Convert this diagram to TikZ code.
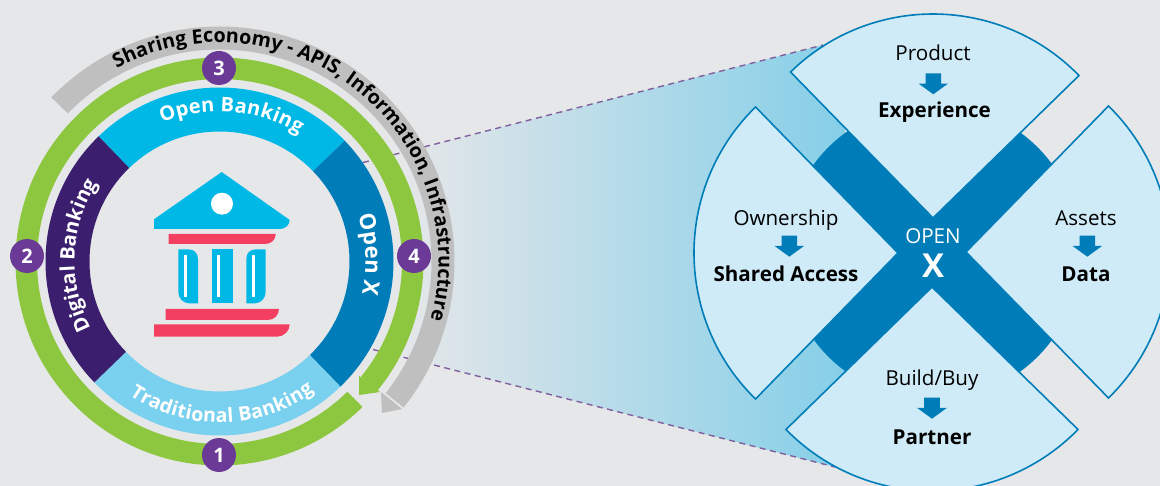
\documentclass[tikz,border=0pt]{standalone}
\usepackage{fontspec}
\setmainfont{Open Sans}
\usetikzlibrary{decorations.text}
\definecolor{bgc}{HTML}{E6E7E9}
\definecolor{fanc}{HTML}{85CFE8}
\definecolor{sectc}{HTML}{CFEBF7}
\definecolor{bluec}{HTML}{007DB8}
\definecolor{cyanc}{HTML}{00B8E6}
\definecolor{lightc}{HTML}{7AD0EF}
\definecolor{darkc}{HTML}{3B1F6E}
\definecolor{greenc}{HTML}{8DC63F}
\definecolor{grayc}{HTML}{BFBFBF}
\definecolor{purc}{HTML}{6A3A96}
\definecolor{pinkc}{HTML}{F44060}
\definecolor{dashc}{HTML}{7F5F9E}
\tikzset{
  numdot/.style={circle,fill=purc,text=white,minimum size=34pt,inner sep=0pt,font=\fontsize{20}{20}\selectfont\bfseries},
  dashline/.style={draw=dashc,line width=1.4pt,dash pattern=on 6pt off 4.5pt},
  fan/.style={fill=sectc,draw=bluec,line width=1.6pt,line join=miter},
  small/.style={anchor=base,font=\fontsize{20.6}{20.6}\selectfont,text=black,inner sep=0pt},
  strong/.style={anchor=base,font=\fontsize{20.6}{20.6}\selectfont\bfseries,text=black,inner sep=0pt},
  darrow/.style={fill=bluec},
}
\newcommand{\ringpiece}[5][]{% color via #1; r1 r2 a b
  \fill[#1] ([shift={(C)}]#4:#3) arc[start angle=#4,end angle=#5,radius=#3]
    -- ([shift={(C)}]#5:#2) arc[start angle=#5,end angle=#4,radius=#2] -- cycle;}
\newcommand{\fansector}[3]{% centre, a, b
  \draw[fan] (#1) -- ([shift={(#1)}]#2:204) arc[start angle=#2,end angle=#3,radius=204] -- cycle;}
\newcommand{\flowarrow}[2]{% cx, top y
  \fill[darrow] (#1-7.8,#2) -- (#1+7.8,#2) -- (#1+7.8,#2+10.3) -- (#1+14.7,#2+10.3) -- (#1,#2+21) -- (#1-14.7,#2+10.3) -- (#1-7.8,#2+10.3) -- cycle;}
\begin{document}
\begin{tikzpicture}[x=1pt,y=-1pt]
\useasboundingbox (0,0) rectangle (1160,486);
\fill[bgc] (0,0) rectangle (1160,486);
\coordinate (C) at (219.5,261.5);
\coordinate (O) at (933,252);
\coordinate (TA) at (933,218);
\coordinate (LA) at (898,253);
\coordinate (RA) at (966,252);
\coordinate (BA) at (932,287);
\coordinate (d1) at (363,162.5);
\coordinate (d2) at (823,45);
\coordinate (d3) at (373,349.5);
\coordinate (d4) at (835,467);
% gradient wedge
\begin{scope}
\clip (d1) -- (d2) -- (845,100) -- (845,400) -- (d4) -- (d3) -- cycle;
\shade[left color=bgc,right color=fanc] (400,0) rectangle (845,486);
\end{scope}
\draw[dashline] (d1) -- (d2);
\draw[dashline] (d3) -- (d4);
% gray arc
\ringpiece[grayc]{212}{235}{-135.7}{38.4}
\fill[grayc] (381,392) -- (402,409) -- (382,413) -- cycle;
% green arc
\ringpiece[greenc]{182.5}{204}{45.5}{399.3}
\fill[greenc] (359,376) -- (380,392) -- (359,395) -- cycle;
% ring sectors
\ringpiece[cyanc]{130}{174}{-134}{-44}
\ringpiece[bluec]{130}{174}{-44}{46}
\ringpiece[lightc]{130}{174}{46}{136}
\ringpiece[darkc]{130}{174}{136}{226}
% badges
\node[numdot] (n1) at (219,455) {1};
\node[numdot] (n2) at (27,256) {2};
\node[numdot] (n3) at (219,68) {3};
\node[numdot] (n4) at (414,256) {4};
% ring texts
\path[decorate,decoration={text along path,text align=fit to path,
  text={|\fontsize{19.7}{19.7}\selectfont\bfseries|Sharing Economy - APIS, Information, Infrastructure}}]
  ([shift={(C)}]-118:219) arc[start angle=-118,end angle=14.5,radius=219];
\path[decorate,decoration={text along path,text align=fit to path,
  text={|\fontsize{20}{20}\selectfont\bfseries\color{white}|Open Banking}}]
  ([shift={(C)}]-112.5:150) arc[start angle=-112.5,end angle=-58,radius=150];
\path[decorate,decoration={text along path,text align=fit to path,
  text={|\fontsize{22}{22}\selectfont\bfseries\color{white}|Open X}}]
  ([shift={(C)}]-18.5:146) arc[start angle=-18.5,end angle=13,radius=146];
\path[decorate,decoration={text along path,text align=fit to path,
  text={|\fontsize{20}{20}\selectfont\bfseries\color{white}|Digital Banking}}]
  ([shift={(C)}]152.5:145) arc[start angle=152.5,end angle=211,radius=145];
\path[decorate,decoration={text along path,text align=fit to path,
  text={|\fontsize{19.5}{19.5}\selectfont\bfseries\color{white}|Traditional Banking}}]
  ([shift={(C)}]124:161) arc[start angle=124,end angle=54,radius=161];
% bank icon
\fill[cyanc] (221.7,172) -- (289.7,220) .. controls (289.7,225) and (285,229) .. (280,229) -- (154,229) -- (154,219.3) -- cycle;
\node[circle,fill=white,minimum size=22pt,inner sep=0pt] (bankdot) at (222,203.7) {};
\fill[pinkc] (168.7,234) -- (275.7,234) .. controls (275.7,240) and (271,244) .. (265,244) -- (168.7,244) -- cycle;
\fill[pinkc] (165.7,309) -- (279,309) .. controls (279,315) and (274,320) .. (268,320) -- (165.7,320) -- cycle;
\fill[pinkc] (154,324.3) -- (289.7,324.3) .. controls (289.7,331) and (284,336.7) .. (277,336.7) -- (154,336.7) -- cycle;
\fill[cyanc] (178.3,249.3) -- (188,249.3) .. controls (194,249.3) and (198,253) .. (198,259) -- (198,303.3) -- (189,303.3) .. controls (183,303.3) and (178.3,298) .. (178.3,292) -- cycle;
\fill[cyanc] (212,249.3) rectangle (233,303.3);
\fill[cyanc] (265.7,249.3) -- (256,249.3) .. controls (250,249.3) and (246.3,253) .. (246.3,259) -- (246.3,303.3) -- (255,303.3) .. controls (261,303.3) and (265.7,298) .. (265.7,292) -- cycle;
\fill[white] (184,255) rectangle (187,297.3);
\fill[white] (217,255) rectangle (220,297.3);
\fill[white] (252,255) rectangle (254.5,297.3);
% X
\fill[bluec] (TA) -- ([shift={(O)}]-55:148) arc[start angle=-55,end angle=-35,radius=148]
  -- (RA) -- ([shift={(O)}]35:148) arc[start angle=35,end angle=55,radius=148]
  -- (BA) -- ([shift={(O)}]125:148) arc[start angle=125,end angle=145,radius=148]
  -- (LA) -- ([shift={(O)}]215:148) arc[start angle=215,end angle=235,radius=148] -- cycle;
% fans
\fansector{TA}{-134.3}{-44.3}
\fansector{LA}{134.3}{225.7}
\fansector{RA}{-45.7}{45.7}
\fansector{BA}{44.3}{135.7}
\flowarrow{933.3}{73.3}
\flowarrow{789.3}{235.7}
\flowarrow{1087.3}{235.7}
\flowarrow{932}{397.7}
% fan texts
\node[small] (t1) at (933,60.5) {Product};
\node[strong] (t2) at (934.5,118) {Experience};
\node[small] (t3) at (786,225.5) {Ownership};
\node[strong] (t4) at (786,281.5) {Shared Access};
\node[small] (t5) at (1086,225.5) {Assets};
\node[strong] (t6) at (1086,281.5) {Data};
\node[small] (t7) at (932,386) {Build/Buy};
\node[strong] (t8) at (932,444.5) {Partner};
\node[small,text=white] (t9) at (933,244) {OPEN};
\node[anchor=base,inner sep=0pt,text=white,font=\fontsize{33}{33}\selectfont\bfseries] (t10) at (933,278) {X};
\end{tikzpicture}
\end{document}
